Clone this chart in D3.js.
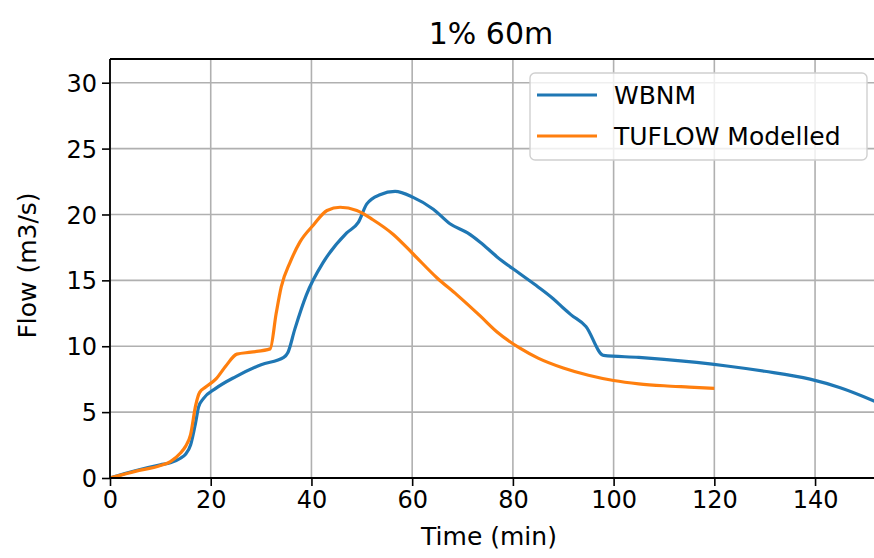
<!DOCTYPE html>
<html>
<head>
<meta charset="utf-8">
<script src="https://cdn.jsdelivr.net/npm/d3@7"></script>
<style>
  body { margin: 0; background: #fff; }
  text { font-family: "DejaVu Sans", sans-serif; fill: #000; }
</style>
</head>
<body>
<div id="chart"></div>
<script>
// Hydrograph data (time in min, flow in m3/s)
const wbnmTime = [0, 5, 10, 12, 14, 15, 16, 17, 17.6, 18.5, 21, 25, 30, 34.5, 35.3, 36.7, 39, 42.4, 47, 49.3, 51, 53.6, 56.6, 60.2, 64.2, 67.5, 71, 73.5, 76.8, 81.4, 85, 88, 90, 91.5, 94.5, 98, 105, 110, 122.5, 130, 139, 145, 152];
const wbnmFlow = [0, 0.55, 1.0, 1.15, 1.5, 1.8, 2.5, 4.2, 5.4, 6.0, 6.8, 7.7, 8.6, 9.15, 9.5, 11.3, 13.9, 16.4, 18.6, 19.4, 20.8, 21.5, 21.75, 21.3, 20.4, 19.3, 18.6, 17.9, 16.8, 15.5, 14.5, 13.6, 12.9, 12.4, 11.5, 9.3, 9.15, 9.0, 8.5, 8.1, 7.5, 6.85, 5.8];
const tuflowTime = [0, 5, 10, 12, 14, 15, 16, 17, 17.8, 19, 21, 23, 25.2, 28, 31.8, 33, 34, 35.8, 37.7, 40.4, 43.1, 45.7, 49, 52.2, 56.2, 60.2, 64.9, 68.9, 73.5, 76.8, 81.4, 85, 90, 95, 100, 105, 110, 115, 120];
const tuflowFlow = [0, 0.5, 0.95, 1.25, 1.9, 2.4, 3.3, 5.5, 6.5, 6.9, 7.5, 8.5, 9.4, 9.55, 9.8, 12.5, 14.5, 16.4, 17.9, 19.2, 20.3, 20.55, 20.3, 19.6, 18.5, 17.0, 15.2, 13.9, 12.3, 11.1, 9.85, 9.1, 8.35, 7.8, 7.4, 7.15, 7.0, 6.9, 6.8];
const xTicks = [0, 20, 40, 60, 80, 100, 120, 140];
const yTicks = [0, 5, 10, 15, 20, 25, 30];
const seriesNames = ["WBNM", "TUFLOW Modelled"];
const seriesColors = ["#1f77b4", "#ff7f0e"];

const width = 874, height = 558;
const margin = { left: 110, right: -2, top: 59, bottom: 80 };
const innerW = width - margin.left - margin.right;
const innerH = height - margin.top - margin.bottom;

const svg = d3.select("#chart").append("svg")
  .attr("width", width).attr("height", height);

const x = d3.scaleLinear().domain([0, 152.1]).range([0, innerW]);
const y = d3.scaleLinear().domain([0, 31.8]).range([innerH, 0]);

const g = svg.append("g").attr("transform", `translate(${margin.left},${margin.top})`);

// grid
g.append("g").selectAll("line").data(xTicks).join("line")
  .attr("x1", d => x(d)).attr("x2", d => x(d))
  .attr("y1", 0).attr("y2", innerH)
  .attr("stroke", "#b0b0b0").attr("stroke-width", 1.6);
g.append("g").selectAll("line").data(yTicks).join("line")
  .attr("x1", 0).attr("x2", innerW)
  .attr("y1", d => y(d)).attr("y2", d => y(d))
  .attr("stroke", "#b0b0b0").attr("stroke-width", 1.6);

// lines
const line = d3.line().x(d => x(d[0])).y(d => y(d[1])).curve(d3.curveMonotoneX);
const series = [d3.zip(wbnmTime, wbnmFlow), d3.zip(tuflowTime, tuflowFlow)];
g.append("defs").append("clipPath").attr("id", "clip")
  .append("rect").attr("width", innerW).attr("height", innerH);
g.append("g").attr("clip-path", "url(#clip)")
  .selectAll("path").data(series).join("path")
  .attr("d", line)
  .attr("fill", "none")
  .attr("stroke", (d, i) => seriesColors[i])
  .attr("stroke-width", 3.2)
  .attr("stroke-linejoin", "round");

// axes
const xAxis = g.append("g").attr("transform", `translate(0,${innerH})`)
  .call(d3.axisBottom(x).tickValues(xTicks).tickSize(8).tickPadding(5));
const yAxis = g.append("g")
  .call(d3.axisLeft(y).tickValues(yTicks).tickSize(8).tickPadding(5));
[xAxis, yAxis].forEach(a => {
  a.select(".domain").remove();
  a.selectAll("line").attr("stroke", "#000").attr("stroke-width", 1.6);
  a.selectAll("text").style("font-size", "24px").attr("fill", "#000");
});
yAxis.selectAll("text").attr("dy", "0.36em");

// spines
g.append("line").attr("x1", 0).attr("x2", 0).attr("y1", 0).attr("y2", innerH)
  .attr("stroke", "#000").attr("stroke-width", 1.8);
g.append("line").attr("x1", 0).attr("x2", innerW).attr("y1", innerH).attr("y2", innerH)
  .attr("stroke", "#000").attr("stroke-width", 1.8);
g.append("line").attr("x1", 0).attr("x2", innerW).attr("y1", 0).attr("y2", 0)
  .attr("stroke", "#000").attr("stroke-width", 1.8);

// labels
svg.append("text").attr("x", margin.left + innerW / 2 - 4).attr("y", 545)
  .attr("text-anchor", "middle").style("font-size", "25px").text("Time (min)");
svg.append("text").attr("transform", `translate(36,${margin.top + innerH / 2 - 3}) rotate(-90)`)
  .attr("text-anchor", "middle").style("font-size", "25px").text("Flow (m3/s)");
svg.append("text").attr("x", margin.left + innerW / 2 - 2).attr("y", 44)
  .attr("text-anchor", "middle").style("font-size", "30px").text("1% 60m");

// legend
const legend = svg.append("g").attr("transform", "translate(530,73)");
legend.append("rect").attr("width", 337).attr("height", 87).attr("rx", 5)
  .attr("fill", "#fff").attr("fill-opacity", 0.8)
  .attr("stroke", "#d0d0d0").attr("stroke-width", 1.4);
const items = legend.selectAll("g").data(seriesNames).join("g")
  .attr("transform", (d, i) => `translate(0,${22 + i * 41})`);
items.append("line").attr("x1", 7).attr("x2", 67)
  .attr("stroke", (d, i) => seriesColors[i]).attr("stroke-width", 3.2);
items.append("text").attr("x", 84).attr("dy", "0.36em")
  .style("font-size", "25px").text(d => d);
</script>
</body>
</html>
